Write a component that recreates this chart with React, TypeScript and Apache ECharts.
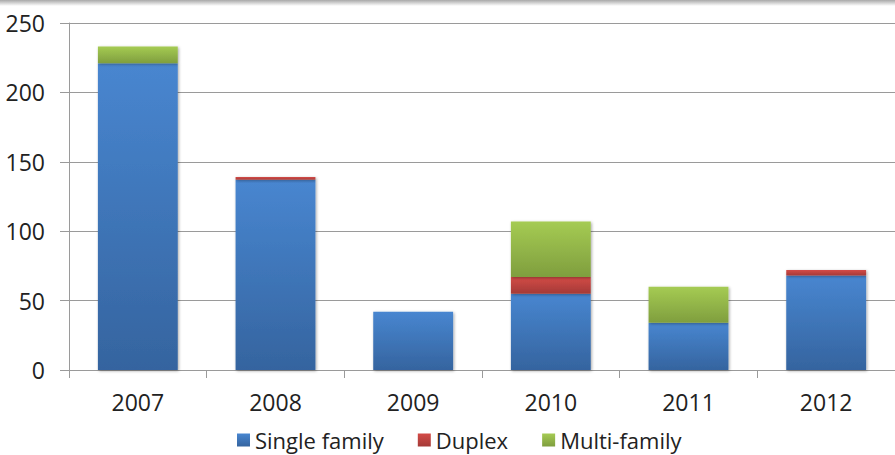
import React, { useEffect, useRef } from "react";
import * as echarts from "echarts";

const categories = ["2007", "2008", "2009", "2010", "2011", "2012"];
const singleFamily = [221, 137, 42, 55, 34, 68];
const duplex = [0, 2, 0, 12, 0, 4];
const multiFamily = [12, 0, 0, 40, 26, 0];
const yTicks = { min: 0, max: 250, interval: 50 };

const FONT = "'Open Sans', 'Noto Sans', sans-serif";

function grad(top: string, bottom: string) {
  return new echarts.graphic.LinearGradient(0, 0, 0, 1, [
    { offset: 0, color: top },
    { offset: 1, color: bottom },
  ]);
}

export default function App() {
  const ref = useRef<HTMLDivElement>(null);
  useEffect(() => {
    document.body.style.margin = "0";
    if (!ref.current) return;
    const chart = echarts.init(ref.current, undefined, { renderer: "svg" });
    const barStyle = (top: string, bottom: string) => ({
      color: grad(top, bottom),
      shadowBlur: 3,
      shadowColor: "rgba(0,0,0,0.35)",
      shadowOffsetX: 1,
      shadowOffsetY: 1,
    });
    chart.setOption({
      animation: false,
      backgroundColor: "#ffffff",
      graphic: [
        {
          type: "rect",
          left: 0,
          top: 0,
          shape: { width: 895, height: 6 },
          style: {
            fill: new echarts.graphic.LinearGradient(0, 0, 0, 1, [
              { offset: 0, color: "#a8a8a8" },
              { offset: 1, color: "#ffffff" },
            ]),
          },
          silent: true,
        },
      ],
      grid: { left: 69, right: 0, top: 23, bottom: 85, containLabel: false },
      legend: {
        left: 232,
        top: 424,
        padding: 5,
        icon: "rect",
        itemWidth: 13,
        itemHeight: 13,
        itemGap: 34,
        textStyle: { fontFamily: FONT, fontSize: 22, lineHeight: 22, color: "#222" },
        data: ["Single family", "Duplex", "Multi-family"],
      },
      xAxis: {
        type: "category",
        data: categories,
        axisLine: { lineStyle: { color: "#9a9a9a", width: 1 } },
        axisTick: { show: true, length: 8, alignWithLabel: false, lineStyle: { color: "#9a9a9a" } },
        axisLabel: { fontFamily: FONT, fontSize: 23, color: "#222", margin: 20 },
      },
      yAxis: {
        type: "value",
        min: yTicks.min,
        max: yTicks.max,
        interval: yTicks.interval,
        axisLine: { show: true, lineStyle: { color: "#9a9a9a", width: 1 } },
        axisTick: { show: true, length: 9, lineStyle: { color: "#9a9a9a" } },
        splitLine: { show: true, lineStyle: { color: "#9a9a9a", width: 1 } },
        axisLabel: { fontFamily: FONT, fontSize: 23, color: "#222", margin: 24 },
      },
      series: [
        {
          name: "Single family",
          type: "bar",
          stack: "total",
          barCategoryGap: "42%",
          data: singleFamily,
          itemStyle: barStyle("#4886d0", "#35649f"),
        },
        {
          name: "Duplex",
          type: "bar",
          stack: "total",
          data: duplex,
          itemStyle: barStyle("#d34b47", "#a43a37"),
        },
        {
          name: "Multi-family",
          type: "bar",
          stack: "total",
          data: multiFamily,
          itemStyle: barStyle("#a5cb53", "#7f9e3e"),
        },
      ],
      color: ["#4a7ebb", "#c0504d", "#9bbb59"],
    });
    return () => chart.dispose();
  }, []);
  return <div ref={ref} style={{ width: 895, height: 455 }} />;
}
